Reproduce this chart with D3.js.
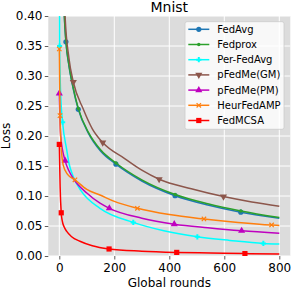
<!DOCTYPE html>
<meta charset="utf-8">
<script src="https://d3js.org/d3.v7.min.js"></script>
<style>
  body { margin: 0; background: #fff; }
  text { font-family: "DejaVu Sans", sans-serif; fill: #000; }
</style>
<div id="chart"></div>
<script>

// values (round, loss), plus rounds where a marker sits
const fedAvgRounds  = [0, 10, 18, 24, 35, 50, 69, 106, 150, 206, 300, 421, 540, 660, 800];
const fedAvgLoss    = [1.2, 0.55, 0.403, 0.357, 0.317, 0.28, 0.2445, 0.2045, 0.175, 0.153, 0.125, 0.1005, 0.085, 0.073, 0.063];
const fedAvgMarks   = [24, 69, 206, 421, 660];

const fedProxRounds = [0, 10, 18, 24, 35, 50, 69, 106, 150, 206, 300, 421, 540, 660, 800];
const fedProxLoss   = [1.2, 0.55, 0.405, 0.359, 0.319, 0.282, 0.246, 0.206, 0.177, 0.155, 0.127, 0.1025, 0.087, 0.075, 0.064];
const fedProxMarks  = [69, 206, 421, 660];

const perFedRounds  = [0, 1, 5, 12, 27, 35, 51, 80, 148, 269, 380, 502, 620, 742, 800];
const perFedLoss    = [0.6, 0.35, 0.27, 0.223, 0.177, 0.155, 0.132, 0.108, 0.0795, 0.056, 0.042, 0.032, 0.026, 0.021, 0.020];
const perFedMarks   = [1, 12, 269, 502, 742];

const gmRounds      = [0, 10, 21, 35, 51, 87, 120, 158, 239, 300, 363, 480, 597, 700, 800];
const gmLoss        = [1.2, 0.6, 0.40, 0.33, 0.29, 0.245, 0.212, 0.189, 0.162, 0.143, 0.128, 0.112, 0.099, 0.09, 0.083];
const gmMarks       = [51, 158, 363, 597];

const pmRounds      = [0, 5, 21, 35, 51, 100, 148, 182, 300, 418, 540, 663, 800];
const pmLoss        = [0.271, 0.2, 0.159, 0.142, 0.129, 0.105, 0.088, 0.0795, 0.063, 0.053, 0.047, 0.042, 0.038];
const pmMarks       = [0, 21, 182, 418, 663];

const heurRounds    = [0, 2.5, 6, 14, 30, 57, 100, 148, 200, 284, 400, 526, 650, 772, 800];
const heurLoss      = [0.345, 0.234, 0.19, 0.152, 0.136, 0.127, 0.111, 0.1017, 0.091, 0.0795, 0.069, 0.0617, 0.056, 0.0517, 0.051];
const heurMarks     = [0, 2.5, 57, 284, 526, 772];

const mcsaRounds    = [0, 3, 7, 11, 17, 27, 45, 75, 120, 181, 300, 427, 550, 675, 800];
const mcsaLoss      = [0.186, 0.115, 0.072, 0.058, 0.049, 0.041, 0.032, 0.0245, 0.017, 0.0117, 0.008, 0.006, 0.005, 0.004, 0.0035];
const mcsaMarks     = [0, 7, 181, 427, 675];

const seriesNames = ["FedAvg", "Fedprox", "Per-FedAvg", "pFedMe(GM)", "pFedMe(PM)", "HeurFedAMP", "FedMCSA"];
const xTicks = [0, 200, 400, 600, 800];
const yTicks = [0, 0.05, 0.10, 0.15, 0.20, 0.25, 0.30, 0.35, 0.40];

const series = [
  {name: seriesNames[0], r: fedAvgRounds,  v: fedAvgLoss,  m: fedAvgMarks,  color: "#1f77b4", sym: "circle"},
  {name: seriesNames[1], r: fedProxRounds, v: fedProxLoss, m: fedProxMarks, color: "#2ca02c", sym: "dot"},
  {name: seriesNames[2], r: perFedRounds,  v: perFedLoss,  m: perFedMarks,  color: "#00ffff", sym: "plus"},
  {name: seriesNames[3], r: gmRounds,      v: gmLoss,      m: gmMarks,      color: "#8c564b", sym: "down"},
  {name: seriesNames[4], r: pmRounds,      v: pmLoss,      m: pmMarks,      color: "#bf00bf", sym: "up"},
  {name: seriesNames[5], r: heurRounds,    v: heurLoss,    m: heurMarks,    color: "#ff7f0e", sym: "x"},
  {name: seriesNames[6], r: mcsaRounds,    v: mcsaLoss,    m: mcsaMarks,    color: "#ff0000", sym: "square"}
];

const W = 291, H = 289;
const svg = d3.select("#chart").append("svg")
  .attr("width", W).attr("height", H);

const x = d3.scaleLinear().domain([-40, 840]).range([48.3, 290.3]);
const y = d3.scaleLinear().domain([0, 0.4]).range([256, 16]);

// background + grid
svg.append("rect")
  .attr("x", x(-40)).attr("y", y(0.4))
  .attr("width", x(840) - x(-40)).attr("height", y(0) - y(0.4))
  .attr("fill", "#dcdcdc");

const grid = svg.append("g").attr("stroke", "#fff").attr("stroke-width", 1);
grid.selectAll(".gx").data(xTicks).join("line")
  .attr("x1", d => x(d)).attr("x2", d => x(d))
  .attr("y1", y(0)).attr("y2", y(0.4));
grid.selectAll(".gy").data(yTicks).join("line")
  .attr("x1", x(-40)).attr("x2", x(840))
  .attr("y1", d => y(d)).attr("y2", d => y(d));

// axes
const xAxis = svg.append("g")
  .attr("transform", `translate(0,${y(0)})`)
  .call(d3.axisBottom(x).tickValues(xTicks).tickSize(3.5).tickPadding(3.5));
const yAxis = svg.append("g")
  .attr("transform", `translate(${x(-40)},0)`)
  .call(d3.axisLeft(y).tickValues(yTicks).tickFormat(d3.format(".2f")).tickSize(3.5).tickPadding(2.3));
[xAxis, yAxis].forEach(a => {
  a.select(".domain").remove();
  a.selectAll(".tick line").attr("stroke", "#333").attr("stroke-width", 0.8);
  a.selectAll(".tick text").attr("font-size", 12).attr("font-family", "DejaVu Sans");
});

// clip for the curves
svg.append("clipPath").attr("id", "clip")
  .append("rect")
  .attr("x", x(-40)).attr("y", y(0.4))
  .attr("width", x(840) - x(-40)).attr("height", y(0) - y(0.4));

const line = d3.line()
  .x(d => x(d[0])).y(d => y(d[1]))
  .curve(d3.curveMonotoneX);

function marker(g, sym, color) {
  if (sym === "circle") g.append("circle").attr("r", 2.6).attr("fill", color);
  else if (sym === "dot") g.append("circle").attr("r", 1.7).attr("fill", color);
  else if (sym === "square") g.append("rect").attr("x", -2.6).attr("y", -2.6).attr("width", 5.2).attr("height", 5.2).attr("fill", color);
  else if (sym === "up") g.append("path").attr("d", d3.symbol(d3.symbolTriangle, 22)()).attr("fill", color);
  else if (sym === "down") g.append("path").attr("d", d3.symbol(d3.symbolTriangle, 22)()).attr("transform", "rotate(180)").attr("fill", color);
  else if (sym === "plus") g.append("path").attr("d", "M-2.6,-1 H-1 V-2.6 H1 V-1 H2.6 V1 H1 V2.6 H-1 V1 H-2.6 Z").attr("fill", color);
  else if (sym === "x") g.append("path").attr("d", "M-2.2,-2.2 L2.2,2.2 M-2.2,2.2 L2.2,-2.2").attr("stroke", color).attr("stroke-width", 1.2);
}

const plot = svg.append("g").attr("clip-path", "url(#clip)");
series.forEach(s => {
  const pts = s.r.map((r, i) => [r, s.v[i]]);
  plot.append("path")
    .attr("d", line(pts))
    .attr("fill", "none")
    .attr("stroke", s.color)
    .attr("stroke-width", 1.5);
  pts.filter(p => s.m.includes(p[0])).forEach(p => {
    marker(plot.append("g").attr("transform", `translate(${x(p[0])},${y(p[1])})`), s.sym, s.color);
  });
});

// legend
const lg = svg.append("g");
lg.append("rect")
  .attr("x", 185).attr("y", 21.7).attr("width", 99).attr("height", 107.6)
  .attr("rx", 2).attr("fill", "#fff").attr("fill-opacity", 0.8)
  .attr("stroke", "#ccc").attr("stroke-width", 0.8);
series.forEach((s, i) => {
  const ry = 29.3 + i * 15.2;
  const row = lg.append("g").attr("transform", `translate(0,${ry})`);
  row.append("line").attr("x1", 188.3).attr("x2", 209.3).attr("y1", 0).attr("y2", 0)
    .attr("stroke", s.color).attr("stroke-width", 1.5);
  marker(row.append("g").attr("transform", "translate(198.8,0)"), s.sym, s.color);
  row.append("text").attr("x", 217.3).attr("y", 0).attr("dy", "0.35em")
    .attr("font-size", 10).text(s.name);
});

// titles
svg.append("text").attr("x", x(400)).attr("y", 11.8)
  .attr("text-anchor", "middle").attr("font-size", 14).text("Mnist");
svg.append("text").attr("x", x(400)).attr("y", 286.5)
  .attr("text-anchor", "middle").attr("font-size", 12).text("Global rounds");
svg.append("text").attr("transform", `translate(10,${y(0.2)}) rotate(-90)`)
  .attr("text-anchor", "middle").attr("font-size", 12).text("Loss");
</script>
